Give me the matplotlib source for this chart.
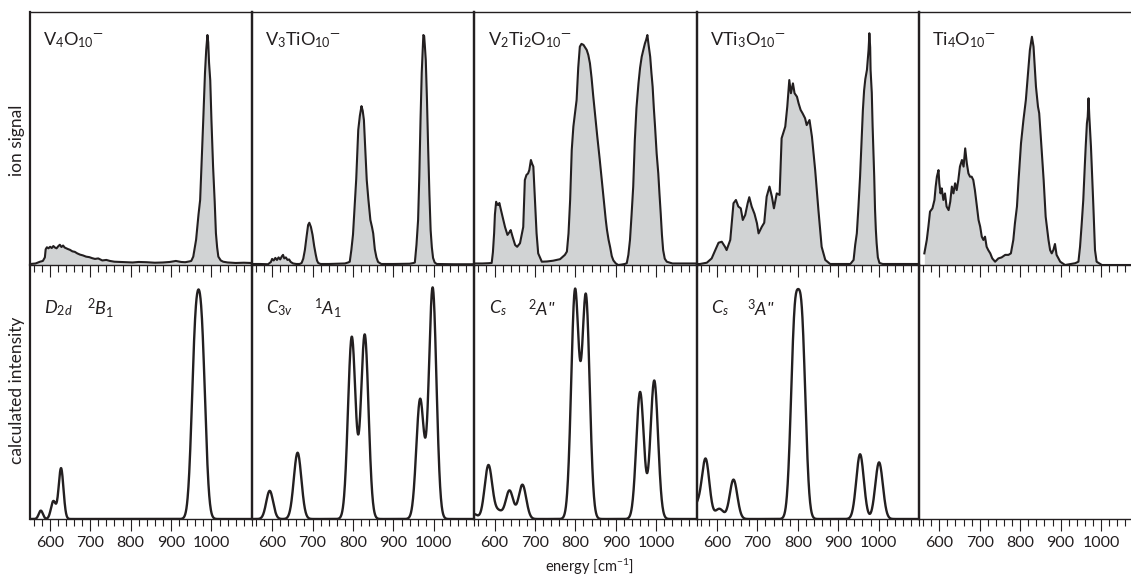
import matplotlib.pyplot as plt
import numpy as np
from matplotlib.ticker import FixedLocator, MultipleLocator

plt.rcParams["font.family"] = ["Lato", "DejaVu Sans"]
plt.rcParams["mathtext.fontset"] = "custom"
plt.rcParams["mathtext.rm"] = "Lato"
plt.rcParams["mathtext.it"] = "Lato:italic"
plt.rcParams["mathtext.default"] = "regular"

INK = "#231f20"
FILL = "#d1d3d4"

# cluster names (top row) and calculated-state labels (bottom row)
formulas = [r"V$_4$O$_{10}$", r"V$_3$TiO$_{10}$", r"V$_2$Ti$_2$O$_{10}$",
            r"VTi$_3$O$_{10}$", r"Ti$_4$O$_{10}$"]
point_groups = [r"D$_{\mathit{2d}}$", r"C$_{\mathit{3v}}$", r"C$_{\mathit{s}}$", r"C$_{\mathit{s}}$"]
states = [r"$^{\mathit{2}}$B$_{\mathit{1}}$", r"$^{\mathit{1}}$A$_{\mathit{1}}$",
          r"$^{\mathit{2}}$A''", r"$^{\mathit{3}}$A''"]
tick_values = [600, 700, 800, 900, 1000]

# experimental ion signal (energy in cm-1, signal in arb. units)
exp_x_v4 = [552, 565, 576, 583, 588, 590, 593, 597, 601, 605, 609, 613, 617, 621, 625, 629, 633, 637,
            641, 645, 650, 656, 662, 668, 675, 682, 690, 698, 705, 712, 720, 730, 740, 749, 760, 775,
            790, 805, 820, 840, 860, 880, 897, 912, 925, 935, 945, 950, 955, 962, 968, 972, 976, 980,
            984, 987, 990, 992, 994, 997, 1000, 1004, 1008, 1011, 1014, 1017, 1023, 1029, 1040, 1060,
            1080, 1098]
exp_y_v4 = [.004, .006, .013, .016, .030, .062, .070, .066, .072, .067, .075, .069, .066, .074, .080,
            .071, .077, .069, .066, .063, .060, .054, .052, .046, .041, .038, .033, .031, .027, .024,
            .026, .018, .020, .016, .013, .012, .011, .010, .012, .011, .009, .010, .012, .016, .012,
            .011, .014, .016, .033, .100, .200, .257, .420, .586, .760, .850, .909, .880, .800, .730,
            .570, .389, .250, .126, .070, .033, .018, .013, .010, .008, .009, .008]

exp_x_v3ti = [552, 570, 590, 597, 600, 604, 608, 612, 616, 620, 624, 627, 630, 634, 638, 642, 646, 652,
              660, 668, 673, 677, 681, 685, 689, 692, 696, 700, 704, 708, 711, 714, 720, 740, 760, 780,
              788, 792, 796, 800, 804, 808, 813, 817, 821, 824, 827, 830, 834, 838, 843, 847, 850, 854,
              858, 862, 870, 900, 940, 950, 953, 957, 961, 964, 967, 970, 974, 976, 978, 980, 983, 986,
              989, 992, 995, 998, 1002, 1007, 1050, 1098]
exp_y_v3ti = [.004, .004, .003, .012, .024, .018, .028, .020, .030, .022, .034, .040, .026, .030, .020,
              .022, .012, .006, .004, .004, .008, .025, .059, .110, .158, .167, .150, .119, .075, .040,
              .018, .008, .004, .004, .005, .006, .010, .013, .060, .120, .230, .340, .534, .590, .628,
              .610, .573, .470, .336, .260, .178, .150, .125, .062, .030, .012, .004, .004, .005, .008,
              .010, .080, .178, .350, .573, .760, .909, .905, .860, .810, .650, .455, .280, .138, .070,
              .028, .010, .004, .003, .003]

exp_x_v2ti2 = [552, 570, 585, 593, 596, 599, 601, 604, 606, 609, 612, 615, 620, 626, 632, 637, 640, 645,
               651, 656, 663, 671, 675, 679, 683, 686, 690, 693, 696, 700, 704, 708, 717, 730, 745, 762,
               774, 779, 783, 787, 791, 795, 799, 803, 807, 811, 815, 820, 824, 828, 832, 836, 840, 844,
               849, 854, 860, 865, 870, 875, 878, 882, 886, 890, 894, 900, 906, 915, 922, 927, 931, 935,
               939, 943, 947, 951, 956, 960, 964, 968, 972, 975, 978, 981, 985, 988, 991, 994, 997, 1001,
               1005, 1008, 1011, 1014, 1017, 1021, 1026, 1040, 1070, 1098]
exp_y_v2ti2 = [.006, .006, .007, .008, .050, .125, .200, .250, .240, .237, .245, .224, .190, .150, .119,
               .130, .138, .110, .079, .072, .086, .150, .336, .356, .362, .375, .415, .400, .389, .257,
               .125, .046, .013, .014, .017, .023, .040, .053, .125, .257, .455, .547, .600, .652, .780,
               .863, .874, .870, .860, .850, .830, .797, .740, .670, .590, .510, .420, .340, .260, .180,
               .140, .100, .070, .035, .018, .006, .000, .002, .004, .007, .040, .099, .200, .310, .494,
               .620, .718, .780, .823, .850, .876, .890, .909, .870, .823, .760, .705, .620, .547, .440,
               .362, .280, .204, .120, .059, .025, .013, .006, .006, .006]

exp_x_vti3 = [552, 558, 575, 587, 596, 604, 612, 620, 624, 633, 641, 647, 653, 659, 664, 670, 676, 680,
              686, 693, 699, 703, 711, 717, 723, 730, 736, 741, 748, 755, 760, 769, 774, 779, 783, 788,
              792, 798, 802, 807, 812, 818, 822, 829, 835, 843, 851, 859, 868, 880, 900, 930, 938, 942,
              946, 950, 954, 958, 961, 964, 967, 971, 975, 976, 977, 979, 980, 983, 985, 989, 991, 993,
              995, 998, 1002, 1010, 1050, 1098]
exp_y_vti3 = [.004, .004, .009, .026, .059, .088, .092, .072, .059, .099, .244, .257, .231, .224, .178,
              .198, .244, .268, .231, .202, .165, .125, .151, .167, .270, .310, .270, .224, .283, .277,
              .501, .547, .626, .731, .679, .718, .679, .665, .639, .613, .599, .580, .553, .573, .507,
              .375, .217, .072, .020, .004, .004, .004, .020, .080, .125, .230, .349, .500, .613, .690,
              .735, .771, .850, .880, .916, .860, .771, .680, .550, .350, .220, .140, .086, .030, .008,
              .004, .004, .004]

exp_x_ti4 = [563, 569, 573, 577, 583, 588, 591, 594, 598, 600, 603, 606, 610, 614, 618, 623, 627, 631,
             635, 639, 643, 647, 651, 656, 660, 664, 668, 672, 676, 680, 684, 688, 693, 697, 701, 705,
             709, 713, 717, 721, 726, 731, 738, 746, 754, 763, 771, 777, 783, 787, 792, 796, 802, 808,
             814, 820, 824, 829, 833, 835, 839, 844, 847, 852, 858, 863, 870, 874, 878, 882, 886, 890,
             899, 911, 936, 944, 948, 952, 956, 960, 962, 965, 967, 969, 971, 975, 978, 981, 985, 989,
             1002, 1067, 1098]
exp_y_ti4 = [.046, .099, .152, .211, .224, .257, .310, .349, .375, .323, .283, .303, .257, .283, .231,
             .217, .250, .310, .283, .323, .296, .336, .389, .415, .389, .461, .402, .362, .349, .349,
             .336, .296, .231, .178, .152, .112, .099, .112, .072, .059, .046, .026, .013, .026, .030,
             .040, .040, .046, .099, .165, .231, .336, .481, .573, .652, .771, .850, .902, .863, .810,
             .705, .626, .600, .481, .336, .191, .099, .059, .046, .059, .083, .040, .013, .000, .007,
             .013, .072, .160, .257, .400, .468, .560, .586, .659, .586, .468, .350, .231, .059, .013,
             .000, .000, .000]

exp_x = [exp_x_v4, exp_x_v3ti, exp_x_v2ti2, exp_x_vti3, exp_x_ti4]
exp_y = [exp_y_v4, exp_y_v3ti, exp_y_v2ti2, exp_y_vti3, exp_y_ti4]

# calculated line positions (cm-1), intensities and gaussian FWHM (cm-1)
calc_pos = [[578, 609, 628, 960, 976],
            [594, 663, 797, 829, 966, 997],
            [548, 585, 610, 637, 669, 799, 826, 960, 995],
            [550, 572, 606, 641, 792, 810, 954, 1001]]
calc_int = [[.033, .070, .200, .652, .652],
            [.111, .261, .716, .725, .470, .910],
            [.020, .212, .030, .112, .135, .893, .873, .500, .545],
            [.050, .235, .040, .155, .720, .720, .255, .223]]
calc_fwhm = [[12, 14, 14, 22, 22],
             [20, 22, 22, 22, 22, 22],
             [22, 22, 22, 22, 22, 22, 22, 22, 22],
             [22, 22, 24, 22, 22, 22, 22, 22]]

W, H = 1131, 576
fig = plt.figure(figsize=(W / 100, H / 100), dpi=100)

x0, pw = 29.5, 222.4
top_row = (265, 12)
bot_row = (519, 265)
term_x = [0.26, 0.28, 0.24, 0.227]
grid = np.linspace(550, 1100, 1101)


def style_axis(ax, top):
    ax.set_xlim(550, 1100)
    ax.set_ylim(0, 1)
    ax.set_yticks([])
    ax.xaxis.set_major_locator(FixedLocator(tick_values))
    ax.xaxis.set_minor_locator(MultipleLocator(20))
    ax.tick_params(axis="x", which="major", direction="out", length=8.5, width=0.8,
                   color=INK, labelsize=11.5, labelcolor=INK, pad=4)
    ax.tick_params(axis="x", which="minor", direction="out", length=5, width=0.8, color=INK)
    for side in ("left", "right"):
        ax.spines[side].set_linewidth(1.6)
        ax.spines[side].set_color(INK)
    ax.spines["bottom"].set_linewidth(1.0)
    ax.spines["bottom"].set_color(INK)
    ax.spines["top"].set_linewidth(1.0)
    ax.spines["top"].set_color(INK)
    if top:
        ax.tick_params(axis="x", labelbottom=False)
    else:
        ax.spines["top"].set_visible(False)
    ax.patch.set_alpha(0)


for i in range(5):
    left = (x0 + pw * i) / W
    # experimental spectra
    ax = fig.add_axes([left, 1 - top_row[0] / H, pw / W, (top_row[0] - top_row[1]) / H])
    style_axis(ax, True)
    ax.fill_between(exp_x[i], 0, exp_y[i], color=FILL, lw=0, zorder=1)
    ax.plot(exp_x[i], exp_y[i], color=INK, lw=1.5, zorder=2)
    ax.text(0.06, 0.89, formulas[i] + "$^{\u2014}$", transform=ax.transAxes,
            fontsize=13, color=INK, va="center", ha="left")

    # calculated spectra
    axb = fig.add_axes([left, 1 - bot_row[0] / H, pw / W, (bot_row[0] - bot_row[1]) / H])
    style_axis(axb, False)
    if i < 4:
        curve = np.zeros_like(grid)
        for p, a, w in zip(calc_pos[i], calc_int[i], calc_fwhm[i]):
            curve += a * np.exp(-4 * np.log(2) * (grid - p) ** 2 / w ** 2)
        axb.plot(grid, curve, color=INK, lw=1.7)
        axb.text(0.065, 0.83, point_groups[i], transform=axb.transAxes, fontsize=13,
                 style="italic", color=INK, va="center", ha="left")
        axb.text(term_x[i], 0.83, states[i], transform=axb.transAxes, fontsize=13,
                 style="italic", color=INK, va="center", ha="left")

fig.text(17 / W, 1 - 140 / H, "ion signal", rotation=90, fontsize=12.5, color=INK,
         ha="center", va="center")
fig.text(17 / W, 1 - 390 / H, "calculated intensity", rotation=90, fontsize=12.5, color=INK,
         ha="center", va="center")
fig.text(589 / W, 1 - 567 / H, r"energy [cm$^{-1}$]", fontsize=10.5, color=INK,
         ha="center", va="center")

fig.savefig("out.png", dpi=100)
